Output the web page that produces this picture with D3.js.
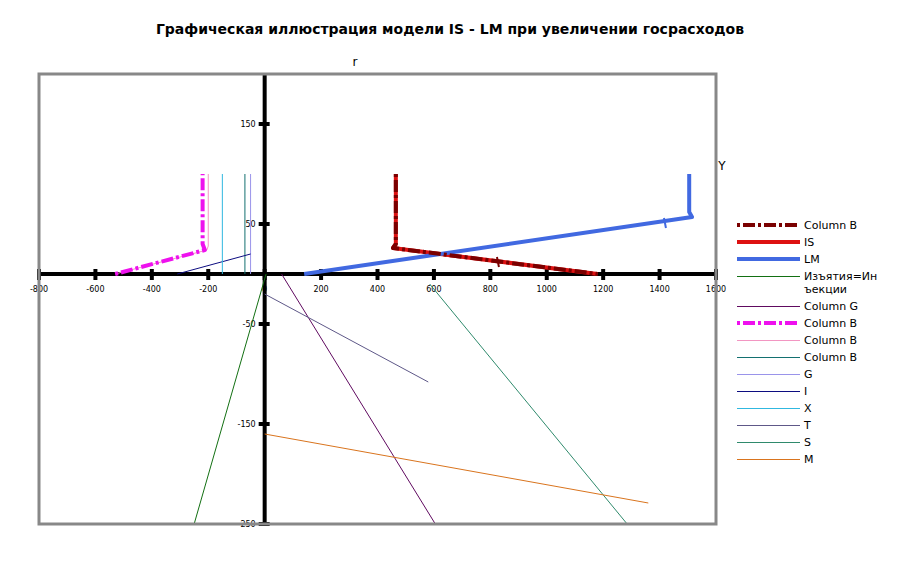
<!DOCTYPE html>
<html>
<head>
<meta charset="utf-8">
<script src="https://cdn.jsdelivr.net/npm/d3@7"></script>
<style>
  body { margin: 0; background: #fff; }
  text { font-family: "DejaVu Sans", Verdana, sans-serif; }
</style>
</head>
<body>
<div id="chart"></div>
<script>
// chart data (Y on x-axis, r on y-axis)
const xTicks = [-800, -600, -400, -200, 0, 200, 400, 600, 800, 1000, 1200, 1400, 1600]
const yTicks = [-250, -150, -50, 50, 150]

const columnBRed = [[465, 100], [465, 30], [455, 26], [1180, 0]]
const isCurve = [[465, 100], [465, 30], [455, 26], [1180, 0]]
const lmCurve = [[140, 0], [1515, 57], [1505, 62], [1505, 100]]
const withdrawals = [[5, 0], [-250, -250]]
const columnG = [[60, 0], [605, -250]]
const columnBMagenta = [[-530, 0], [-212, 24], [-220, 30], [-220, 100]]
const columnBPink = [[-530, 0], [-205, 24], [-200, 28], [-200, 100]]
const columnBTeal = [[-70, 0], [-70, 100]]
const gLine = [[-50, 0], [-50, 100]]
const iLine = [[-310, 0], [-50, 20]]
const xLine = [[-150, 0], [-150, 100]]
const tLine = [[0, -20], [580, -108]]
const sLine = [[585, -10], [1285, -250]]
const mLine = [[0, -160], [1360, -229]]
const pointMarks = [[827, 12], [1419, 51]]

const series = [
  { name: 'Column B', data: columnBRed, color: '#7a0000', width: 4, dash: '3,3,12,3', z: 3 },
  { name: 'IS', data: isCurve, color: '#dd1111', width: 4, dash: null, z: 2 },
  { name: 'LM', data: lmCurve, color: '#4169e1', width: 4, dash: null, z: 2 },
  { name: ['Изъятия=Ин', 'ъекции'], data: withdrawals, color: '#137013', width: 1, dash: null, z: 1 },
  { name: 'Column G', data: columnG, color: '#600a60', width: 1, dash: null, z: 1 },
  { name: 'Column B', data: columnBMagenta, color: '#ee11ee', width: 4, dash: '3,3,12,3', z: 2 },
  { name: 'Column B', data: columnBPink, color: '#f296c2', width: 1, dash: null, z: 1 },
  { name: 'Column B', data: columnBTeal, color: '#137070', width: 1, dash: null, z: 1 },
  { name: 'G', data: gLine, color: '#9a94ea', width: 1, dash: null, z: 1 },
  { name: 'I', data: iLine, color: '#0c0c80', width: 1, dash: null, z: 1 },
  { name: 'X', data: xLine, color: '#30b8e0', width: 1, dash: null, z: 1 },
  { name: 'T', data: tLine, color: '#5e5888', width: 1, dash: null, z: 1 },
  { name: 'S', data: sLine, color: '#2f8a6c', width: 1, dash: null, z: 1 },
  { name: 'M', data: mLine, color: '#d9741e', width: 1, dash: null, z: 1 }
]

const W = 902, H = 571
const plot = { left: 39, right: 716, top: 74, bottom: 524 }

const svg = d3.select('#chart').append('svg')
  .attr('width', W)
  .attr('height', H)

const x = d3.scaleLinear().domain([-800, 1600]).range([plot.left, plot.right])
const y = d3.scaleLinear().domain([-250, 200]).range([plot.bottom, plot.top])

// title
svg.append('text')
  .attr('x', 450).attr('y', 34)
  .attr('text-anchor', 'middle')
  .style('font-size', '14px')
  .style('font-weight', 'bold')
  .text('Графическая иллюстрация модели IS - LM при увеличении госрасходов')

svg.append('defs').append('clipPath').attr('id', 'clip')
  .append('rect')
  .attr('x', plot.left).attr('y', plot.top)
  .attr('width', plot.right - plot.left).attr('height', plot.bottom - plot.top)

// axes through origin
const axisG = svg.append('g')
axisG.append('line')
  .attr('x1', plot.left).attr('x2', plot.right)
  .attr('y1', y(0)).attr('y2', y(0))
  .attr('stroke', '#000').attr('stroke-width', 4)
axisG.append('line')
  .attr('x1', x(0)).attr('x2', x(0))
  .attr('y1', plot.top).attr('y2', plot.bottom)
  .attr('stroke', '#000').attr('stroke-width', 4)

axisG.selectAll('.xt').data(xTicks).enter().append('line')
  .attr('x1', d => x(d)).attr('x2', d => x(d))
  .attr('y1', y(0) - 5).attr('y2', y(0) + 6)
  .attr('stroke', '#000').attr('stroke-width', 4)
axisG.selectAll('.xl').data(xTicks).enter().append('text')
  .attr('x', d => x(d)).attr('y', y(0) + 18)
  .attr('text-anchor', 'middle')
  .style('font-size', '8px')
  .text(d => d)

axisG.selectAll('.yt').data(yTicks).enter().append('line')
  .attr('x1', x(0) - 6).attr('x2', x(0) + 5)
  .attr('y1', d => y(d)).attr('y2', d => y(d))
  .attr('stroke', '#000').attr('stroke-width', 4)
axisG.selectAll('.yl').data(yTicks).enter().append('text')
  .attr('x', x(0) - 9).attr('y', d => y(d) + 3)
  .attr('text-anchor', 'end')
  .style('font-size', '8px')
  .text(d => d)

// series lines
const line = d3.line().x(d => x(d[0])).y(d => y(d[1]))
const lines = svg.append('g').attr('clip-path', 'url(#clip)')
const ordered = series.slice().sort((a, b) => a.z - b.z)
ordered.forEach(s => {
  lines.append('path')
    .datum(s.data)
    .attr('d', line)
    .attr('fill', 'none')
    .attr('stroke', s.color)
    .attr('stroke-width', s.width)
    .attr('stroke-linejoin', 'round')
    .attr('stroke-dasharray', s.dash)
})

// small point marks on IS and LM
lines.selectAll('.pm').data(pointMarks).enter().append('line')
  .attr('x1', d => x(d[0]) - 1).attr('x2', d => x(d[0]) + 1)
  .attr('y1', d => y(d[1]) - 5).attr('y2', d => y(d[1]) + 5)
  .attr('stroke', (d, i) => i === 0 ? '#7a0000' : '#4169e1')
  .attr('stroke-width', 2)

// plot border
svg.append('rect')
  .attr('x', plot.left).attr('y', plot.top)
  .attr('width', plot.right - plot.left).attr('height', plot.bottom - plot.top)
  .attr('fill', 'none')
  .attr('stroke', '#888')
  .attr('stroke-width', 3)

// axis names
svg.append('text').attr('x', 355).attr('y', 66)
  .attr('text-anchor', 'middle').style('font-size', '12px').text('r')
svg.append('text').attr('x', 722).attr('y', 170)
  .attr('text-anchor', 'middle').style('font-size', '12px').text('Y')

// legend
const legend = svg.append('g')
let ly = 225
series.forEach(s => {
  const thick = s.width > 1
  legend.append('line')
    .attr('x1', 737).attr('x2', 800)
    .attr('y1', thick ? ly : ly + 0.5).attr('y2', thick ? ly : ly + 0.5)
    .attr('stroke', s.color)
    .attr('stroke-width', thick ? 4 : 1)
    .attr('stroke-dasharray', s.dash)
  const names = Array.isArray(s.name) ? s.name : [s.name]
  names.forEach((n, i) => {
    legend.append('text')
      .attr('x', 804).attr('y', ly + 4 + i * 13)
      .style('font-size', '11px')
      .text(n)
  })
  ly += 17 + (names.length - 1) * 13
})
</script>
</body>
</html>
